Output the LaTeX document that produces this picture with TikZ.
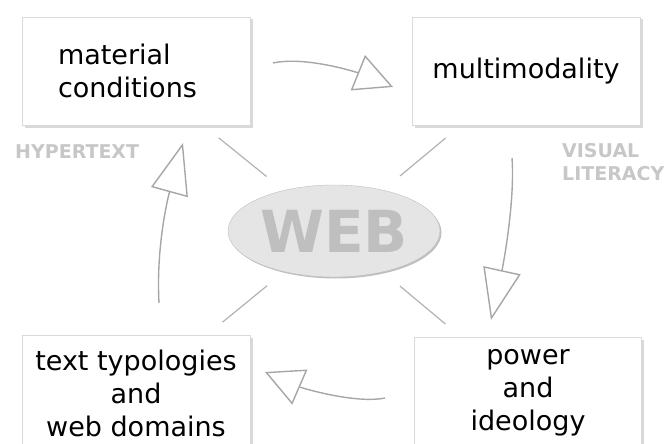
\documentclass[tikz,border=0pt]{standalone}
\usepackage{fontspec}
\setmainfont{DejaVu Sans}
\usetikzlibrary{shapes.geometric,shadows,arrows.meta}

\begin{document}
\begin{tikzpicture}[x=1pt,y=-1pt,
  box/.style={rectangle, draw=black!15, fill=white, inner sep=0pt,
    minimum width=228pt, minimum height=108pt,
    font=\fontsize{27}{33}\selectfont,
    drop shadow={shadow xshift=2.5pt, shadow yshift=-2.5pt, opacity=0.3}},
  spoke/.style={draw=black!30, line width=1.2pt, shorten <=20pt, shorten >=22pt},
  flow/.style={draw=black!35, line width=1.4pt,
    -{Triangle[open, fill=white, length=#1, width=38pt]}},
  flow/.default=38pt,
  tag/.style={font=\fontsize{19}{23}\selectfont\bfseries, text=black!22,
    align=left, inner sep=0pt, anchor=base west}]
\useasboundingbox (0,0) rectangle (670,444);
\clip (0,0) rectangle (670,444);

% the four boxes
\node [box, text width=156pt, align=left] (mat) at (136,71) {material\\conditions};
\node [box] (multi) at (526,71) {multimodality};
\node [box, align=center, minimum height=116pt] (typo) at (136,393) {text typologies\\and\\web domains};
\node [box, align=center, minimum width=227pt, minimum height=112pt] (power) at (528,393) {power\\and\\ideology};

% centre
\node [ellipse, draw=black!25, fill=black!10, inner sep=0pt,
  minimum width=212pt, minimum height=92pt,
  font=\fontsize{58}{58}\selectfont\bfseries, text=black!25,
  drop shadow={shadow xshift=1.5pt, shadow yshift=-1.5pt, opacity=0.5}] (web) at (334,231) {WEB};

% spokes
\draw [spoke] (mat) -- (web);
\draw [spoke] (multi) -- (web);
\draw [spoke] (typo) -- (web);
\draw [spoke] (power) -- (web);

% arrows round the cycle
\coordinate (mat-out) at (273,63);
\coordinate (multi-in) at (393,87);
\coordinate (multi-out) at (512,158);
\coordinate (power-in) at (491,320);
\coordinate (power-out) at (385,398);
\coordinate (typo-in) at (265,372);
\coordinate (typo-out) at (159,303);
\coordinate (mat-in) at (183,143);
\draw [flow] (mat-out) .. controls (305,56) and (356,72) .. (multi-in);
\draw [flow=51pt] (multi-out) .. controls (515,200) and (504,261) .. (power-in);
\draw [flow] (power-out) .. controls (355,404) and (302,388) .. (typo-in);
\draw [flow=51pt] (typo-out) .. controls (156,250) and (167,201) .. (mat-in);

% labels
\node [tag] (hyper) at (15,158) {HYPERTEXT};
\node [tag] (visual) at (562,180) {VISUAL\\LITERACY};
\end{tikzpicture}
\end{document}
